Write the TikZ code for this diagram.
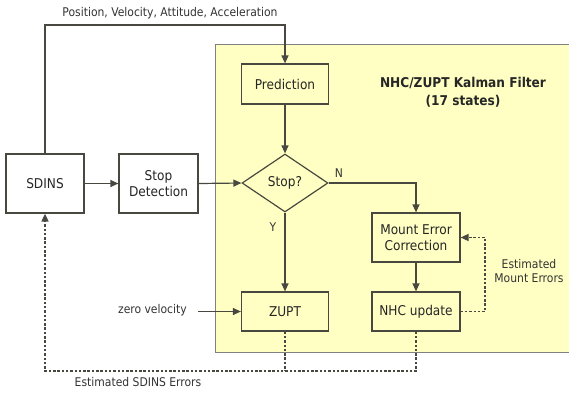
\documentclass[tikz,border=0pt]{standalone}
\usepackage{fontspec}
\setmainfont{DejaVu Sans Condensed}
\usetikzlibrary{arrows.meta,shapes.geometric}
\definecolor{kfyellow}{RGB}{255,255,196}
\definecolor{edge}{RGB}{72,72,64}
\tikzset{
  blk/.style={draw=edge,line width=1.2pt,minimum width=#1,inner sep=1pt,align=center,text=black!85,font=\fontsize{13.5}{15.5}\selectfont},
  blk/.default=78pt,
  arr/.style={draw=edge,line width=1.2pt,-{Triangle[length=8pt,width=7pt]}},
  dsh/.style={draw=edge,line width=1.6pt,dash pattern=on 2.5pt off 1.8pt},
  darr/.style={dsh,-{Triangle[length=8pt,width=7pt]}},
  lbl/.style={font=\fontsize{12}{14.5}\selectfont,text=black!80,inner sep=1pt}
}
\begin{document}
\begin{tikzpicture}[x=1pt,y=-1pt]
\useasboundingbox (0,0) rectangle (569,392);
% filter area
\fill[kfyellow] (215,44) rectangle (575,352);
\draw[gray,line width=0.9pt] (575,44) -- (215,44) -- (215,352) -- (575,352);
\node[font=\bfseries\fontsize{13.5}{18}\selectfont,align=center,text=black!85] (title) at (463,92) {NHC/ZUPT Kalman Filter\\(17 states)};
% blocks
\node[blk=78pt,minimum height=59pt,fill=white] (sdins) at (45,183.5) {SDINS};
\node[blk=79pt,minimum height=59pt,fill=white] (stopdet) at (158.5,183.5) {Stop\\Detection};
\node[blk=87pt,minimum height=40pt,fill=kfyellow] (pred) at (285,84) {Prediction};
\node[draw=edge,line width=1.2pt,diamond,aspect=1.48,minimum width=86pt,minimum height=58pt,inner sep=0pt,fill=kfyellow,text=black!85,font=\fontsize{13.5}{15.5}\selectfont] (stop) at (285,183) {Stop?};
\node[blk=87pt,minimum height=39pt,fill=kfyellow] (zupt) at (285,311.5) {ZUPT};
\node[blk=88pt,minimum height=49pt,fill=kfyellow] (mount) at (416,237.5) {Mount Error\\Correction};
\node[blk=88pt,minimum height=39pt,fill=kfyellow] (nhc) at (416,311.5) {NHC update};
% coordinates
\coordinate (topL) at (45,25);
\coordinate (topR) at (285,25);
\coordinate (nturn) at (416,183);
\coordinate (zv) at (198,311.5);
\coordinate (botL) at (45,371);
\coordinate (botZ) at (285,371);
\coordinate (botN) at (416,371);
\coordinate (mR1) at (485,311.5);
\coordinate (mR2) at (485,237.5);
% connectors
\draw[arr] (sdins.north) -- (topL) -- (topR) -- (pred.north);
\node[lbl] (pvaa) at (170,13) {Position, Velocity, Attitude, Acceleration};
\draw[arr] (sdins.east) -- (stopdet.west);
\draw[arr] (stopdet.east) -- (stop.west);
\draw[arr] (pred.south) -- (stop.north);
\draw[arr] (stop.east) -- (nturn) -- (mount.north);
\node[lbl] (nl) at (339,173) {N};
\draw[arr] (stop.south) -- (zupt.north);
\node[lbl] (yl) at (273,227) {Y};
\node[lbl,anchor=east] (zvl) at (188,310) {zero velocity};
\draw[arr] (zv) -- (zupt.west);
\draw[arr] (mount.south) -- (nhc.north);
% dashed feedback
\draw[dsh] (zupt.south) -- (botZ);
\draw[darr] (nhc.south) -- (botN) -- (botL) -- (sdins.south);
\node[lbl] (esdins) at (138,382) {Estimated SDINS Errors};
\draw[darr] (nhc.east) -- (mR1) -- (mR2) -- (mount.east);
\node[lbl,align=center] (emount) at (529,271) {Estimated\\Mount Errors};
\end{tikzpicture}
\end{document}
